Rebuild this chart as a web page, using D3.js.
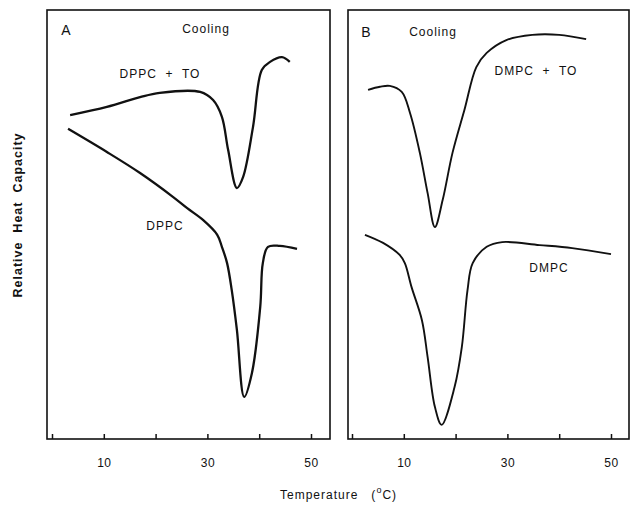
<!DOCTYPE html>
<html>
<head>
<meta charset="utf-8">
<script src="https://cdn.jsdelivr.net/npm/d3@7"></script>
<style>
  body { margin: 0; background: #fff; }
  svg text { font-family: "Liberation Sans", Arial, sans-serif; fill: #111; white-space: pre; }
  .lbl { font-size: 12px; letter-spacing: 1px; }
  .tick text { font-size: 12px; letter-spacing: 0.5px; }
</style>
</head>
<body>
<div class="chart"></div>
<script>
const width = 630;
const height = 505;

// Panel A, DPPC + TO (temperature in °C, relative heat capacity)
const tempA_TO = [3.5, 10.6, 17, 20.8, 28.6, 31.1, 32.8, 34, 35.7, 36.9, 38.8, 40.5, 42.1, 44.4, 45.9];
const heatA_TO = [75.5, 77.4, 79.7, 80.7, 80.9, 79.0, 75.1, 67.4, 58.5, 61.1, 72.7, 86.0, 87.9, 89.0, 87.9];

// Panel A, DPPC
const tempA = [3.1, 10.6, 17, 23.4, 26.1, 29.2, 31.9, 32.8, 33.8, 34.7, 35.7, 37.1, 38.6, 40.2, 40.7, 41.7, 44, 47.3];
const heatA = [72.3, 66.9, 62, 56.4, 53.8, 51, 47.6, 44.8, 41, 34.7, 25.4, 9.8, 15.4, 30.8, 41, 44.8, 45, 44.3];

// Panel B, DMPC + TO
const tempB_TO = [3.1, 5.4, 7.3, 9.6, 11.2, 13.1, 14.6, 16, 17.5, 19.4, 21.7, 24, 26, 29.8, 34.8, 40, 45.2];
const heatB_TO = [81.4, 82.1, 82.3, 80.9, 76, 66.7, 57.3, 49.4, 55.7, 66.7, 76.7, 86.7, 90, 93, 94.2, 94.2, 93.2];

// Panel B, DMPC
const tempB = [2.5, 6, 9.2, 10.2, 11.5, 13.5, 14.6, 16, 17.3, 19.8, 21.2, 22.3, 23.3, 26, 29, 36.2, 42.5, 50];
const heatB = [47.6, 45.7, 42.9, 41, 35.4, 27.7, 19.1, 7.5, 3.3, 12.1, 21.4, 34.7, 41, 44.8, 45.9, 45.2, 44.5, 43.1];

const tickValues = [0, 10, 20, 30, 40, 50];
const tickLabels = [10, 30, 50];

const svg = d3.select(".chart")
   .append("svg")
   .attr("width", width)
   .attr("height", height);

const plotTop = 10;
const plotBottom = 439;

const yScale = d3.scaleLinear().domain([0, 100]).range([plotBottom, plotTop]);

const panels = [
   {
      letter: "A", left: 47, right: 330, x0: 52, sw: 2.3,
      series: [
         { t: tempA_TO, v: heatA_TO, name: "DPPC + TO", lx: 160, ly: 78 },
         { t: tempA, v: heatA, name: "DPPC", lx: 165, ly: 230 }
      ],
      letterPos: [66, 35], coolPos: [206, 33]
   },
   {
      letter: "B", left: 348, right: 629, x0: 352, sw: 1.9,
      series: [
         { t: tempB_TO, v: heatB_TO, name: "DMPC + TO", lx: 536, ly: 75 },
         { t: tempB, v: heatB, name: "DMPC", lx: 549, ly: 272 }
      ],
      letterPos: [366, 37], coolPos: [433, 36]
   }
];

const line = d3.line().curve(d3.curveCatmullRom.alpha(0.5));

panels.forEach((p) => {
   // 10 °C is about 52 px in both panels
   const xScale = d3.scaleLinear()
      .domain([0, 50])
      .range([p.x0, p.x0 + 259]);

   const g = svg.append("g");

   g.append("rect")
      .attr("x", p.left)
      .attr("y", plotTop)
      .attr("width", p.right - p.left)
      .attr("height", plotBottom - plotTop)
      .attr("fill", "none")
      .attr("stroke", "#111")
      .attr("stroke-width", 1.6);

   const xAxis = d3.axisBottom(xScale)
      .tickValues(tickValues)
      .tickSizeInner(-5)
      .tickSizeOuter(0)
      .tickPadding(19)
      .tickFormat((d) => (tickLabels.includes(d) ? d : ""));

   const ax = g.append("g")
      .attr("transform", `translate(0, ${plotBottom})`)
      .call(xAxis);
   ax.select(".domain").remove();
   ax.selectAll(".tick line").attr("stroke", "#111").attr("stroke-width", 1.5);
   ax.selectAll(".tick text").attr("fill", "#111");

   p.series.forEach((s) => {
      g.append("path")
         .attr("d", line(s.t.map((t, i) => [xScale(t), yScale(s.v[i])])))
         .attr("fill", "none")
         .attr("stroke", "#111")
         .attr("stroke-width", p.sw)
         .attr("stroke-linejoin", "round");

      g.append("text")
         .attr("class", "lbl")
         .attr("x", s.lx)
         .attr("y", s.ly)
         .attr("text-anchor", "middle")
         .text(s.name.replace(" + ", "  +  "));
   });

   g.append("text")
      .attr("x", p.letterPos[0])
      .attr("y", p.letterPos[1])
      .attr("text-anchor", "middle")
      .style("font-size", "14px")
      .text(p.letter);

   g.append("text")
      .attr("class", "lbl")
      .attr("x", p.coolPos[0])
      .attr("y", p.coolPos[1])
      .attr("text-anchor", "middle")
      .text("Cooling");
});

svg.append("text")
   .attr("transform", "translate(22, 215) rotate(-90)")
   .attr("text-anchor", "middle")
   .style("font-size", "12.5px")
   .style("font-weight", "bold")
   .style("letter-spacing", "1px")
   .text("Relative  Heat  Capacity");

const xl = svg.append("text")
   .attr("x", 280)
   .attr("y", 499)
   .attr("text-anchor", "start")
   .style("font-size", "12px")
   .style("letter-spacing", "1px");
xl.append("tspan").text("Temperature   (");
xl.append("tspan").attr("dy", -6).style("font-size", "9px").text("o");
xl.append("tspan").attr("dy", 6).text("C)");
</script>
</body>
</html>
